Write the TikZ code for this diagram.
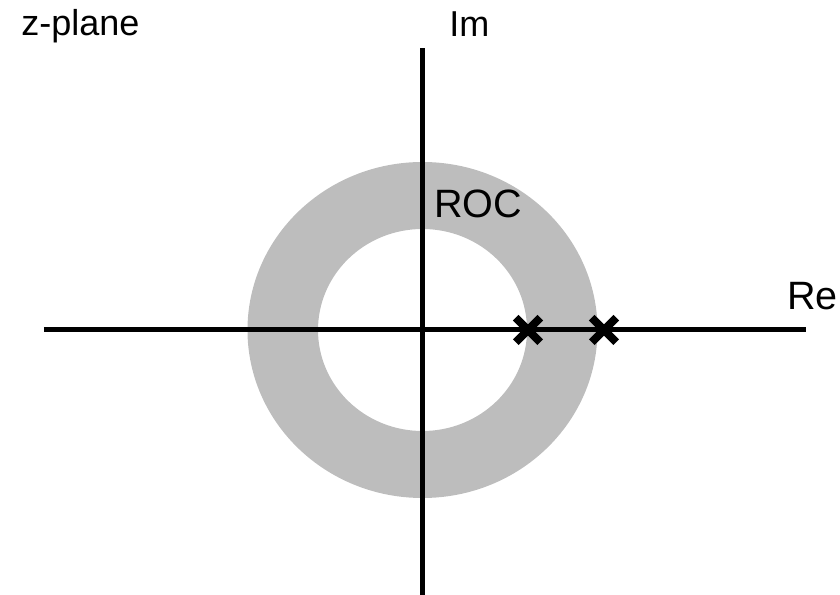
\documentclass[tikz,border=0pt]{standalone}
\usepackage{fontspec}
\setmainfont{Liberation Sans}
\usetikzlibrary{shapes.misc}

\begin{document}
\begin{tikzpicture}[every node/.style={inner sep=0pt,anchor=base west},
    axis/.style={line width=0.1cm},
    roc/.style={fill=black!26},
    pole/.style={cross out,draw,line width=0.16cm,minimum size=0.33cm,anchor=center},
    small/.style={font=\fontsize{20.5}{24}\selectfont},
    big/.style={font=\fontsize{22.5}{27}\selectfont}]
  \useasboundingbox (-8.45,-5.3) rectangle (8.35,6.6);
  % region of convergence
  \fill[roc,even odd rule] (0,0) ellipse [x radius=3.5cm,y radius=3.36cm]
                           (0,0) ellipse [x radius=2.09cm,y radius=2.02cm];
  % axes
  \draw[axis] (-7.57,0) -- (7.67,0);
  \draw[axis] (0,-5.3) -- (0,5.64);
  % poles
  \node[pole] (p1) at (2.11,0) {};
  \node[pole] (p2) at (3.63,0) {};
  % labels
  \node[small] (zpl) at (-8.03,5.88) {z-plane};
  \node[small] (im) at (0.53,5.86) {Im};
  \node[big] (re) at (7.29,0.4) {Re};
  \node[big] (roclab) at (0.23,2.24) {ROC};
\end{tikzpicture}
\end{document}
